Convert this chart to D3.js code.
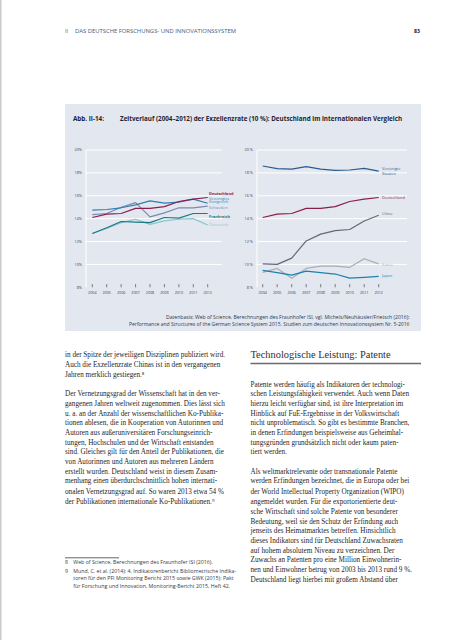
<!DOCTYPE html>
<html><head><meta charset="utf-8">
<script src="https://cdn.jsdelivr.net/npm/d3@7"></script>
<style>html,body{margin:0;padding:0;background:#fff;}svg{display:block;}</style>
</head><body>
<script>
// ---- data ----
const years = [2004,2005,2006,2007,2008,2009,2010,2011,2012];
const yTicks = [8,10,12,14,16,18,20];
const leftNames = ["Deutschland","Vereinigtes Königreich","Schweden","Frankreich","Österreich"];
const deutschland = [14.1,14.4,14.45,14.9,14.9,15.05,15.5,15.7,15.85];
const vereinigtesKoenigreich = [14.75,14.8,14.95,15.2,15.55,15.35,15.45,15.7,15.35];
const schweden = [14.35,14.45,15.0,15.4,14.15,14.5,14.95,14.95,15.1];
const frankreich = [12.7,13.2,13.75,13.7,13.65,14.1,14.05,14.45,14.45];
const oesterreich = [12.7,13.15,13.65,13.95,13.5,13.8,13.95,14.0,13.45];
const rightNames = ["Vereinigte Staaten","Deutschland","China","Korea","Japan"];
const vereinigteStaaten = [18.6,18.37,18.33,18.54,18.33,18.22,18.25,18.4,18.15];
const china = [10.05,10.0,10.55,12.05,12.65,12.95,13.05,13.8,14.3];
const korea = [9.3,9.65,8.8,9.65,9.85,9.85,9.75,10.5,10.05];
const japan = [9.48,9.28,9.07,9.42,9.28,9.16,8.8,8.87,8.96];

const W=453,H=640;
const svg=d3.select("body").append("svg").attr("width",W).attr("height",H);
const sans="'Open Sans', 'Noto Sans', sans-serif";
const serif="'Liberation Serif', 'DejaVu Serif', serif";

// page border
svg.append("rect").attr("x",0).attr("y",0).attr("width",1.5).attr("height",H).attr("fill","#c9c9c9");
// header
svg.append("text").attr("x",65).attr("y",33).attr("font-family",sans).attr("font-size",5.2).attr("fill","#3f5b82").text("II");
svg.append("text").attr("x",75).attr("y",33).attr("font-family",sans).attr("font-size",5.2).attr("fill","#3f5b82")
  .attr("textLength",161).attr("lengthAdjust","spacingAndGlyphs").text("DAS DEUTSCHE FORSCHUNGS- UND INNOVATIONSSYSTEM");
svg.append("text").attr("x",420).attr("y",33).attr("text-anchor","end").attr("font-family",sans).attr("font-weight","bold").attr("font-size",5.2).attr("fill","#222").text("83");

// panel
svg.append("rect").attr("x",65).attr("y",104).attr("width",356).attr("height",227).attr("fill","#e3e7ef");
svg.append("text").attr("x",73).attr("y",121).attr("font-family",sans).attr("font-weight","bold").attr("font-size",6.3).attr("fill","#1d2433")
  .attr("textLength",31).attr("lengthAdjust","spacingAndGlyphs").text("Abb. II-14:");
svg.append("text").attr("x",120).attr("y",121).attr("font-family",sans).attr("font-weight","bold").attr("font-size",6.3).attr("fill","#1d2433")
  .attr("textLength",282).attr("lengthAdjust","spacingAndGlyphs").text("Zeitverlauf (2004–2012) der Exzellenzrate (10 %): Deutschland im internationalen Vergleich");

const y=d3.scaleLinear().domain([8,20]).range([287.3,150]);

function chart(cfg){
  const x=d3.scaleLinear().domain([2004,2012]).range(cfg.xr);
  const g=svg.append("g");
  g.selectAll("line.grid").data(yTicks.filter(t=>t>8)).join("line")
    .attr("x1",cfg.gx[0]).attr("x2",cfg.gx[1]).attr("y1",d=>y(d)).attr("y2",d=>y(d))
    .attr("stroke","#ffffff").attr("stroke-width",1);
  g.append("line").attr("x1",cfg.gx[0]).attr("x2",cfg.gx[0]).attr("y1",y(20)).attr("y2",y(8)).attr("stroke","#fff").attr("stroke-width",1);
  g.selectAll("text.yl").data(yTicks).join("text")
    .attr("x",cfg.gx[0]-4).attr("y",d=>y(d)+1.3).attr("text-anchor","end")
    .attr("font-family",sans).attr("font-size",3.8).attr("fill","#3a4250")
    .text(d=>d+cfg.pct);
  g.selectAll("line.tk").data(years).join("line")
    .attr("x1",d=>x(d)).attr("x2",d=>x(d)).attr("y1",y(8)-3.2).attr("y2",y(8)).attr("stroke","#333").attr("stroke-width",0.6);
  g.selectAll("text.xl").data(years).join("text")
    .attr("x",d=>x(d)).attr("y",293.6).attr("text-anchor","middle")
    .attr("font-family",sans).attr("font-size",3.7).attr("fill","#3a4250").text(d=>d);
  const line=d3.line().x((d,i)=>x(years[i])).y(d=>y(d));
  cfg.series.forEach(s=>{
    g.append("path").datum(s.v).attr("d",line).attr("fill","none").attr("stroke",s.c).attr("stroke-width",1.2).attr("stroke-linejoin","round");
  });
  cfg.labels.forEach(l=>{
    g.append("text").attr("x",cfg.lx).attr("y",l.y).attr("font-family",sans).attr("font-size",3.9)
      .attr("font-weight",l.b?"bold":"normal").attr("fill",l.c).text(l.t);
  });
}

const cD="#8b1d4c",cVK="#2f7fae",cS="#7b89b0",cF="#1c7883",cA="#8ec4cc";
const cUS="#2a5b8e",cC="#62677a",cK="#a9adba",cJ="#1c82ab";
chart({xr:[92.3,207.7],gx:[86,222],pct:"%",lx:209,
  series:[{v:oesterreich,c:cA},{v:frankreich,c:cF},{v:schweden,c:cS},{v:vereinigtesKoenigreich,c:cVK},{v:deutschland,c:cD}],
  labels:[{t:leftNames[0],y:194.5,c:cD,b:true},{t:"Vereinigtes",y:199.5,c:cVK},{t:"Königreich",y:203.3,c:cVK},
          {t:leftNames[2],y:208.7,c:cS},{t:leftNames[3],y:217.5,c:cF,b:true},{t:leftNames[4],y:226.3,c:cA}]});
chart({xr:[262.7,378.7],gx:[257,407],pct:" %",lx:382,
  series:[{v:korea,c:cK},{v:japan,c:cJ},{v:china,c:cC},{v:deutschland,c:cD},{v:vereinigteStaaten,c:cUS}],
  labels:[{t:"Vereinigte",y:169.5,c:cUS},{t:"Staaten",y:174.5,c:cUS},{t:rightNames[1],y:198.5,c:cD},
          {t:rightNames[2],y:215.3,c:cC},{t:rightNames[3],y:265.6,c:cK},{t:rightNames[4],y:277,c:cJ}]});

// source
svg.append("text").attr("x",409.5).attr("y",319).attr("text-anchor","end").attr("font-family",sans).attr("font-size",4.9).attr("fill","#2d3a50")
  .attr("textLength",243.5).attr("lengthAdjust","spacingAndGlyphs").text("Datenbasis: Web of Science, Berechnungen des Fraunhofer ISI, vgl. Michels/Neuhäusler/Frietsch (2016):");
svg.append("text").attr("x",409.5).attr("y",325.8).attr("text-anchor","end").attr("font-family",sans).attr("font-size",4.9).attr("fill","#2d3a50")
  .attr("textLength",280.5).attr("lengthAdjust","spacingAndGlyphs").text("Performance and Structures of the German Science System 2015. Studien zum deutschen Innovationssystem Nr. 5-2016");

// body text
const leftLines=[
 [355,"in der Spitze der jeweiligen Disziplinen publiziert wird."],
 [364.7,"Auch die Exzellenzrate Chinas ist in den vergangenen"],
 [374.3,"Jahren merklich gestiegen.⁸"],
 [394,"Der Vernetzungsgrad der Wissenschaft hat in den ver-"],
 [403.7,"gangenen Jahren weltweit zugenommen. Dies lässt sich"],
 [413.3,"u. a. an der Anzahl der wissenschaftlichen Ko-Publika-"],
 [423,"tionen ablesen, die in Kooperation von Autorinnen und"],
 [432.7,"Autoren aus außeruniversitären Forschungseinrich-"],
 [442.3,"tungen, Hochschulen und der Wirtschaft entstanden"],
 [452,"sind. Gleiches gilt für den Anteil der Publikationen, die"],
 [461.7,"von Autorinnen und Autoren aus mehreren Ländern"],
 [471.3,"erstellt wurden. Deutschland weist in diesem Zusam-"],
 [481,"menhang einen überdurchschnittlich hohen internati-"],
 [491.7,"onalen Vernetzungsgrad auf. So waren 2013 etwa 54 %"],
 [501.7,"der Publikationen internationale Ko-Publikationen.⁹"]];
const rightLines=[
 [384.3,"Patente werden häufig als Indikatoren der technologi-"],
 [394,"schen Leistungsfähigkeit verwendet. Auch wenn Daten"],
 [403.7,"hierzu leicht verfügbar sind, ist ihre Interpretation im"],
 [413.3,"Hinblick auf FuE-Ergebnisse in der Volkswirtschaft"],
 [423,"nicht unproblematisch. So gibt es bestimmte Branchen,"],
 [432.7,"in denen Erfindungen beispielsweise aus Geheimhal-"],
 [442.3,"tungsgründen grundsätzlich nicht oder kaum paten-"],
 [452,"tiert werden."],
 [471.3,"Als weltmarktrelevante oder transnationale Patente"],
 [481,"werden Erfindungen bezeichnet, die in Europa oder bei"],
 [491.7,"der World Intellectual Property Organization (WIPO)"],
 [501.7,"angemeldet wurden. Für die exportorientierte deut-"],
 [511.7,"sche Wirtschaft sind solche Patente von besonderer"],
 [521.3,"Bedeutung, weil sie den Schutz der Erfindung auch"],
 [531,"jenseits des Heimatmarktes betreffen. Hinsichtlich"],
 [540.7,"dieses Indikators sind für Deutschland Zuwachsraten"],
 [550.3,"auf hohem absolutem Niveau zu verzeichnen. Der"],
 [560,"Zuwachs an Patenten pro eine Million Einwohnerin-"],
 [569.7,"nen und Einwohner betrug von 2003 bis 2013 rund 9 %."],
 [579.3,"Deutschland liegt hierbei mit großem Abstand über"]];
function body(lines,x){
  svg.append("g").selectAll("text").data(lines).join("text")
    .attr("x",x).attr("y",d=>d[0]+2.3).attr("font-family",serif).attr("font-size",7.2).attr("fill","#262626").text(d=>d[1]);
}
body(leftLines,65); body(rightLines,250.5);

svg.append("text").attr("x",250.5).attr("y",357.5).attr("font-family",serif).attr("font-size",10.4).attr("fill","#2f2f2f").text("Technologische Leistung: Patente");
svg.append("line").attr("x1",250.5).attr("x2",421).attr("y1",363.5).attr("y2",363.5).attr("stroke","#6b6b6b").attr("stroke-width",1.3);

// footnotes
svg.append("line").attr("x1",65).attr("x2",119).attr("y1",557.8).attr("y2",557.8).attr("stroke","#222").attr("stroke-width",0.7);
const fn=[[562.7,"8","Web of Science, Berechnungen des Fraunhofer ISI (2016)."],
 [571,"9","Mund, C. et al. (2014): 4. Indikatorenbericht Bibliometrische Indika-"],
 [578.7,"","toren für den PFI Monitoring Bericht 2015 sowie GWK (2015): Pakt"],
 [586,"","für Forschung und Innovation, Monitoring-Bericht 2015, Heft 42."]];
const fg=svg.append("g").attr("font-family",sans).attr("font-size",5.25).attr("fill","#3a3a3a");
fn.forEach(f=>{
  fg.append("text").attr("x",65).attr("y",f[0]+1.7).text(f[1]);
  fg.append("text").attr("x",73.3).attr("y",f[0]+1.7).text(f[2]);
});
</script>
</body></html>
